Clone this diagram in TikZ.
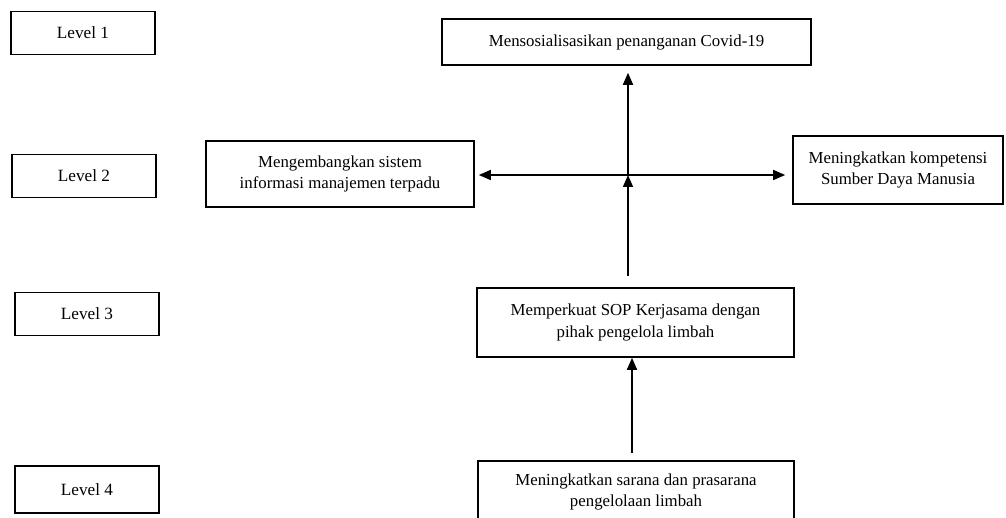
\documentclass[tikz,border=0pt]{standalone}
\usepackage{fontspec}
\setmainfont{Liberation Serif}
\usetikzlibrary{arrows.meta}

\begin{document}
\begin{tikzpicture}[x=0.5pt,y=-0.5pt,>={Triangle[length=6pt,width=5pt]},
  lvl/.style={draw,line width=0.8pt,inner sep=0pt,minimum width=72pt,minimum height=21.5pt,font=\fontsize{8.6}{10.8}\selectfont},
  box/.style={draw,line width=0.8pt,inner sep=0pt,align=center,font=\fontsize{8.4}{10.8}\selectfont},
  arr/.style={line width=0.8pt}]
\clip (0,0) rectangle (1006,518);
% levels
\node[lvl] (l1) at (83,33) {Level 1};
\node[lvl] (l2) at (84,176) {Level 2};
\node[lvl] (l3) at (87,314) {Level 3};
\node[lvl,minimum height=23.5pt] (l4) at (87,489.5) {Level 4};
% boxes
\node[box,minimum width=184.5pt,minimum height=23pt] (top) at (626.5,42) {Mensosialisasikan penanganan Covid-19};
\node[box,minimum width=134pt,minimum height=33pt] (left) at (340,174) {Mengembangkan sistem\\informasi manajemen terpadu};
\node[box,minimum width=105pt,minimum height=34pt] (right) at (898,170) {Meningkatkan kompetensi\\Sumber Daya Manusia};
\node[box,minimum width=158.5pt,minimum height=34.5pt] (mid) at (635.5,322.5) {Memperkuat SOP Kerjasama dengan\\pihak pengelola limbah};
\node[box,minimum width=158pt,minimum height=31pt] (bot) at (636,492) {Meningkatkan sarana dan prasarana\\pengelolaan limbah};
\coordinate (j) at (628,175);
% arrows
\draw[arr,->,shorten <=5.5pt] (mid.north -| j) -- (j);
\draw[arr,->,shorten >=3.5pt] (j) -- (top.south -| j);
\draw[arr,<->,shorten <=2pt,shorten >=3.5pt] (left.east |- j) -- (right.west |- j);
\draw[arr,->,shorten <=3.5pt] ([xshift=-2pt]bot.north) -- ([xshift=-2pt]bot.north |- mid.south);
\end{tikzpicture}
\end{document}
